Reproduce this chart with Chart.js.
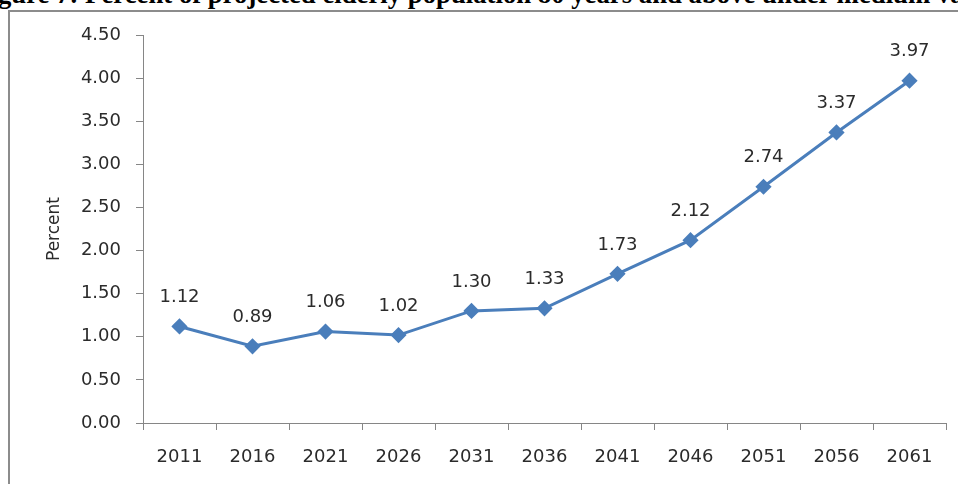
<!DOCTYPE html>
<html>
<head>
<meta charset="utf-8">
<script src="https://cdn.jsdelivr.net/npm/chart.js@4/dist/chart.umd.min.js"></script>
<style>
  html, body { margin: 0; padding: 0; background: #fff; overflow: hidden; }
  #wrap { position: relative; width: 958px; height: 484px; overflow: hidden; }
  #title { position: absolute; left: -2px; top: -20px; white-space: nowrap; line-height: 1.149;
    font-family: "Liberation Serif", "Times New Roman", serif; font-weight: bold; font-size: 26px; color: #000; }
  #frame { position: absolute; left: 8px; top: 10px; right: 0; bottom: 0;
    border-left: 2px solid #8c8c8c; border-top: 2px solid #8c8c8c; }
  canvas { position: absolute; left: 0; top: 0; }
</style>
</head>
<body>
<div id="wrap">
  <div id="title">gure 7: Percent of projected elderly population 80 years and above under medium va</div>
  <div id="frame"></div>
  <canvas id="c" width="958" height="484"></canvas>
</div>
<script>
const categories = ["2011","2016","2021","2026","2031","2036","2041","2046","2051","2056","2061"];
const percentValues = [1.12, 0.89, 1.06, 1.02, 1.30, 1.33, 1.73, 2.12, 2.74, 3.37, 3.97];
const yTicks = [0, 0.5, 1, 1.5, 2, 2.5, 3, 3.5, 4, 4.5];

// fit the clipped title so it spans the page width like the reference
(function () {
  const t = document.getElementById('title');
  const w = t.getBoundingClientRect().width;
  if (w > 0) {
    const fs = 26 * 966 / w;
    t.style.fontSize = fs.toFixed(2) + 'px';
    t.style.top = (3 - fs * 0.891).toFixed(1) + 'px';
  }
})();

const FONT = "DejaVu Sans";
const TXT = "#2b2b2b";

const labelPlugin = {
  id: 'valueLabels',
  afterDatasetsDraw(chart) {
    const ctx = chart.ctx;
    const meta = chart.getDatasetMeta(0);
    ctx.save();
    ctx.font = "18px '" + FONT + "'";
    ctx.fillStyle = TXT;
    ctx.textAlign = 'center';
    ctx.textBaseline = 'middle';
    meta.data.forEach((pt, i) => {
      ctx.fillText(percentValues[i].toFixed(2), pt.x, pt.y - 29);
    });
    ctx.restore();
  }
};

new Chart(document.getElementById('c'), {
  type: 'line',
  data: {
    labels: categories,
    datasets: [{
      data: percentValues,
      borderColor: '#4a7ebb',
      backgroundColor: '#4a7ebb',
      borderWidth: 3,
      pointStyle: 'rectRot',
      pointRadius: 6,
      pointHoverRadius: 6,
      tension: 0,
      fill: false
    }]
  },
  options: {
    responsive: false,
    animation: false,
    devicePixelRatio: 1,
    plugins: { legend: { display: false }, tooltip: { enabled: false } },
    layout: { padding: { left: 44, right: 12, top: 35, bottom: 0 } },
    scales: {
      x: {
        offset: true,
        grid: { display: true, drawOnChartArea: false, offset: true, tickLength: 7, color: '#868686' },
        border: { display: true, color: '#868686', width: 1 },
        ticks: { font: { family: FONT, size: 18 }, color: TXT, padding: 17, maxRotation: 0 },
        afterFit(s) { s.height = 61; }
      },
      y: {
        min: 0, max: 4.5,
        afterBuildTicks(s) { s.ticks = yTicks.map(v => ({ value: v })); },
        grid: { display: true, drawOnChartArea: false, tickLength: 7, color: '#868686' },
        border: { display: true, color: '#868686', width: 1 },
        ticks: { font: { family: FONT, size: 18 }, color: TXT, padding: 15,
                 callback: v => Number(v).toFixed(2) },
        title: { display: true, text: 'Percent', font: { family: FONT, size: 17 }, color: TXT, padding: 0 },
        afterFit(s) { s.width = 99; }
      }
    }
  },
  plugins: [labelPlugin]
});
</script>
</body>
</html>
